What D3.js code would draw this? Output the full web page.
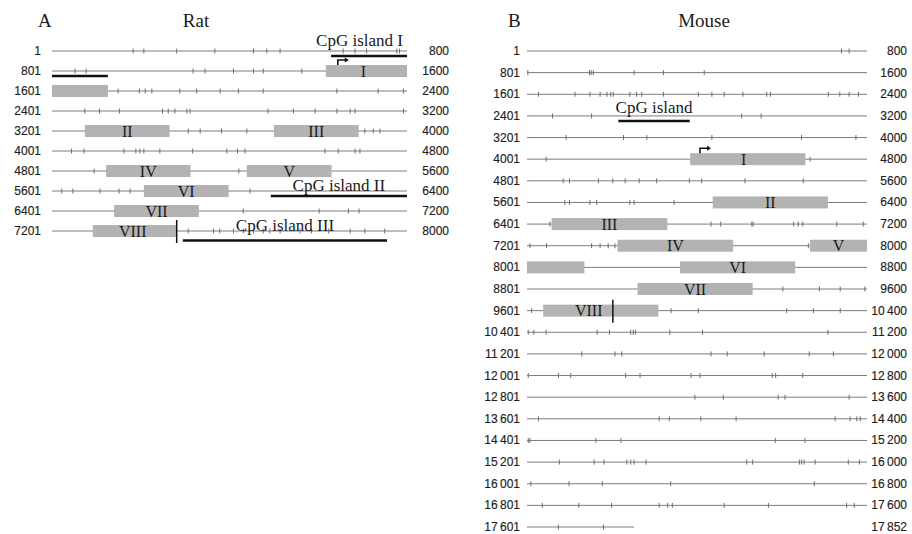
<!DOCTYPE html>
<html>
<head>
<meta charset="utf-8">
<script src="https://cdn.jsdelivr.net/npm/d3@7"></script>
<style>
  body { margin: 0; background: #fff; }
  svg { display: block; }
  .rowlab { font-family: "Liberation Sans", Arial, sans-serif; font-size: 12px; fill: #1c1c1c; stroke: #1c1c1c; stroke-width: 0.15px; }
  .serif { font-family: "Liberation Serif", "Times New Roman", serif; fill: #1a1a1a; }
</style>
</head>
<body>
<div id="chart"></div>
<script>
const WIDTH = 912, HEIGHT = 534;
const ROW_BP = 800;

// ---- Rat (panel A) ----
const ratLength = 8000;
// tick offsets (bp within each 800 bp row), one list per row
const ratSites = [
  [183, 207, 281, 367, 454, 484, 514, 656, 683, 709, 777, 783],
  [52, 77, 318, 345, 409, 454, 476, 563],
  [149, 197, 210, 225, 288, 326, 379, 420, 476, 642, 735, 792],
  [74, 107, 152, 249, 262, 277, 304, 311, 487, 544, 593, 642, 672, 683, 792],
  [307, 334, 382, 439, 705, 724, 739],
  [44, 72, 162, 189, 198, 207, 243, 317, 394, 418, 435, 615, 645, 683, 694],
  [95, 421],
  [22, 47, 108, 151, 176, 446],
  [431, 602, 668, 692],
  [307, 364, 378, 409, 431, 454, 476, 491, 514, 559, 585, 623, 672, 705, 750]
];
const ratExonNames = ["I", "II", "III", "IV", "V", "VI", "VII", "VIII"];
const ratExonStart = [1418, 3275, 3701, 4923, 5240, 5808, 6541, 7293];
const ratExonEnd   = [1726, 3465, 3891, 5112, 5430, 5998, 6731, 7481];
const ratIslandNames = ["CpG island I", "CpG island II", "CpG island III"];
const ratIslandStart = [630, 6094, 7496];
const ratIslandEnd   = [926, 6400, 7955];
const ratTss = 1445;
const ratStop = 7482;

// ---- Mouse (panel B) ----
const mouseLength = 17852;
const mouseSites = [
  [740, 758],
  [2, 147, 151, 156, 252, 321, 417],
  [27, 113, 148, 172, 188, 197, 203, 242, 258, 270, 321, 403, 435, 464, 508, 564, 573, 709, 736, 758, 780],
  [60, 152, 505, 551],
  [92, 227, 282, 435, 646, 774],
  [45, 666],
  [85, 100, 168, 202, 231, 264, 305, 382, 411, 513, 650],
  [89, 100, 148, 164, 242, 252, 346],
  [54, 433, 456, 529, 532, 627, 638, 649, 729, 791],
  [7, 46, 152, 172, 191, 207, 662],
  [],
  [602, 688, 737, 795],
  [11, 339, 403, 611, 674, 737],
  [3, 16, 45, 165, 194, 244, 250, 255, 336, 413, 708],
  [129, 207, 223, 433, 471, 558, 664, 721],
  [3, 74, 103, 232, 266, 386, 407, 577, 585, 649],
  [395, 462, 591, 607, 758],
  [27, 311, 335, 409, 492, 725, 760, 776, 784],
  [3, 7, 162, 221, 584, 654],
  [76, 158, 181, 235, 244, 252, 280, 517, 531, 641, 646, 652, 678, 756, 782],
  [9, 99, 177, 338, 676],
  [36, 122, 199, 311, 331, 342, 464, 568, 752, 770],
  [74, 180]
];
const mouseExonNames = ["I", "II", "III", "IV", "V", "VI", "VII", "VIII"];
const mouseExonStart = [4385, 6038, 6459, 7414, 7867, 8361, 9061, 9639];
const mouseExonEnd   = [4655, 6308, 6730, 7685, 8135, 8631, 9331, 9909];
const mouseIslandNames = ["CpG island"];
const mouseIslandStart = [2616];
const mouseIslandEnd   = [2783];
const mouseTss = 4408;
const mouseStop = 9803;

// island line / label offsets from the row line (px)
const islandStyle = {
  "CpG island I":   { line: 5, text: -5 },
  "CpG island II":  { line: 5, text: 0 },
  "CpG island III": { line: 9.5, text: 0 },
  "CpG island":     { line: 5, text: -3 }
};

const panels = [
  { letter: "A", title: "Rat", length: ratLength, sites: ratSites,
    exons: ratExonNames.map((n, i) => ({ name: n, start: ratExonStart[i], end: ratExonEnd[i] })),
    islands: ratIslandNames.map((n, i) => ({ name: n, start: ratIslandStart[i], end: ratIslandEnd[i] })),
    tss: ratTss, stop: ratStop, labelNudge: { I: -3, VIII: -2 },
    x0: 52, x1: 407, y0: 51, y1: 231, leftLab: 41, rightLab: 449, letterX: 38, titleX: 196 },
  { letter: "B", title: "Mouse", length: mouseLength, sites: mouseSites,
    exons: mouseExonNames.map((n, i) => ({ name: n, start: mouseExonStart[i], end: mouseExonEnd[i] })),
    islands: mouseIslandNames.map((n, i) => ({ name: n, start: mouseIslandStart[i], end: mouseIslandEnd[i] })),
    tss: mouseTss, stop: mouseStop, labelNudge: { I: -4, VIII: -12 },
    x0: 527, x1: 867, y0: 51, y1: 527, leftLab: 520, rightLab: 907, letterX: 508, titleX: 704 }
];

const big = d3.formatLocale({ decimal: ".", thousands: "\u2009", grouping: [3] }).format(",");
const fmt = n => n >= 10000 ? big(n) : String(n);

// split an absolute bp interval into row segments (offsets 0..800)
function segments(start, end) {
  const out = [];
  let r0 = Math.floor((start - 1) / ROW_BP), r1 = Math.floor((end - 1) / ROW_BP);
  for (let r = r0; r <= r1; r++) {
    const a = Math.max(start - 1, r * ROW_BP) - r * ROW_BP;
    const b = Math.min(end, (r + 1) * ROW_BP) - r * ROW_BP;
    out.push({ row: r, a: a, b: b });
  }
  return out;
}
const rowOf = p => Math.floor((p - 1) / ROW_BP);
const offOf = p => p - 1 - rowOf(p) * ROW_BP;

const svg = d3.select("#chart").append("svg")
  .attr("width", WIDTH).attr("height", HEIGHT)
  .attr("viewBox", [0, 0, WIDTH, HEIGHT]);

panels.forEach(p => {
  const nRows = Math.ceil(p.length / ROW_BP);
  const rows = d3.range(nRows);
  const x = d3.scaleLinear().domain([0, ROW_BP]).range([p.x0, p.x1]);
  const y = d3.scalePoint().domain(rows).range([p.y0, p.y1]);
  const g = svg.append("g");

  g.append("text").attr("class", "serif").attr("x", p.letterX).attr("y", 27)
    .style("font-size", "19px").text(p.letter);
  g.append("text").attr("class", "serif").attr("x", p.titleX).attr("y", 27)
    .attr("text-anchor", "middle").style("font-size", "19px").text(p.title);

  // row lines
  g.append("g").selectAll("line").data(rows).join("line")
    .attr("x1", x(0))
    .attr("x2", r => x(Math.min(ROW_BP, p.length - r * ROW_BP)))
    .attr("y1", r => y(r)).attr("y2", r => y(r))
    .attr("stroke", "#7c7c7c").attr("stroke-width", 1);

  // site ticks
  const ticks = p.sites.flatMap((list, r) => list.map(o => ({ row: r, o: o })));
  g.append("g").selectAll("line").data(ticks).join("line")
    .attr("x1", d => x(d.o)).attr("x2", d => x(d.o))
    .attr("y1", d => y(d.row) - 2.5).attr("y2", d => y(d.row) + 2.5)
    .attr("stroke", "#6f6f6f").attr("stroke-width", 1);

  // row numbers
  g.append("g").selectAll("text").data(rows).join("text")
    .attr("class", "rowlab").attr("text-anchor", "end")
    .attr("x", p.leftLab).attr("y", r => y(r) + 4)
    .text(r => fmt(r * ROW_BP + 1));
  g.append("g").selectAll("text").data(rows).join("text")
    .attr("class", "rowlab").attr("text-anchor", "end")
    .attr("x", p.rightLab).attr("y", r => y(r) + 4)
    .text(r => fmt(Math.min((r + 1) * ROW_BP, p.length)));

  // exons
  const exSegs = p.exons.flatMap(e => segments(e.start, e.end).map((s, i) => ({ ...s, name: e.name, first: i === 0 })));
  g.append("g").selectAll("rect").data(exSegs).join("rect")
    .attr("x", d => x(d.a)).attr("width", d => x(d.b) - x(d.a))
    .attr("y", d => y(d.row) - 6).attr("height", 12)
    .attr("fill", "#b3b3b3");
  g.append("g").selectAll("text").data(exSegs.filter(d => d.first)).join("text")
    .attr("class", "serif").attr("text-anchor", "middle")
    .attr("x", d => (x(d.a) + x(d.b)) / 2 + (p.labelNudge[d.name] || 0))
    .attr("y", d => y(d.row) + 5.5)
    .style("font-size", "16px").text(d => d.name);

  // CpG islands
  p.islands.forEach(isl => {
    const st = islandStyle[isl.name];
    const segs = segments(isl.start, isl.end);
    g.append("g").selectAll("line").data(segs).join("line")
      .attr("x1", d => x(d.a)).attr("x2", d => x(d.b))
      .attr("y1", d => y(d.row) + st.line).attr("y2", d => y(d.row) + st.line)
      .attr("stroke", "#111").attr("stroke-width", 2.5);
    const s0 = segs[0];
    const t = g.append("text").attr("class", "serif").attr("text-anchor", "middle")
      .attr("y", y(s0.row) + st.text).style("font-size", "17px").text(isl.name);
    const w = t.node().getComputedTextLength();
    let cx = (x(s0.a) + x(s0.b)) / 2;
    cx = Math.min(cx, p.x1 - 4 - w / 2);
    t.attr("x", cx);
  });

  // stop mark
  g.append("line")
    .attr("x1", x(offOf(p.stop))).attr("x2", x(offOf(p.stop)))
    .attr("y1", y(rowOf(p.stop)) - 11).attr("y2", y(rowOf(p.stop)) + 12)
    .attr("stroke", "#111").attr("stroke-width", 1.5);

  // transcription start arrow
  const tx = x(offOf(p.tss)), ty = y(rowOf(p.tss)) - 6;
  g.append("path")
    .attr("d", `M${tx},${ty}V${ty - 5}H${tx + 8}`)
    .attr("fill", "none").attr("stroke", "#111").attr("stroke-width", 1.6);
  g.append("path")
    .attr("d", `M${tx + 11},${ty - 5}L${tx + 7},${ty - 7.5}L${tx + 7},${ty - 2.5}Z`)
    .attr("fill", "#111");
});
</script>
</body>
</html>
